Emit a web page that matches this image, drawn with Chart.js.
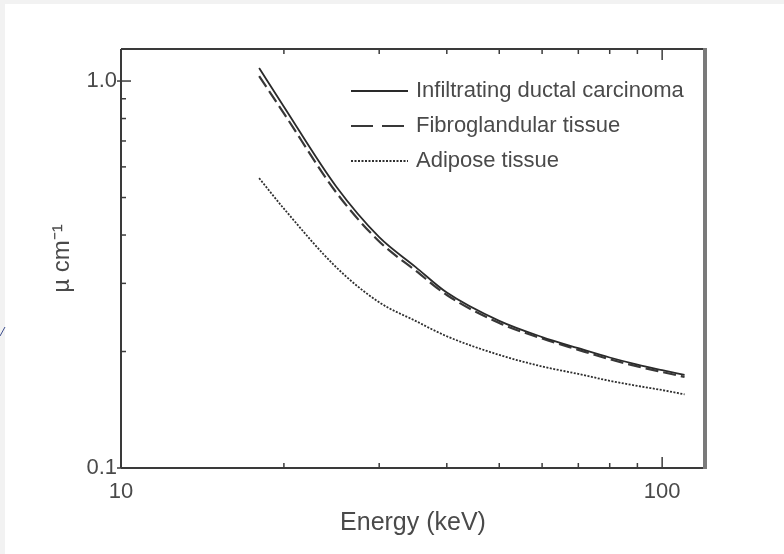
<!DOCTYPE html>
<html>
<head>
<meta charset="utf-8">
<script src="https://cdn.jsdelivr.net/npm/chart.js@4.4.1/dist/chart.umd.min.js"></script>
<style>
  html, body { margin: 0; padding: 0; background: #fff; }
  #muChart { display: block; }
</style>
</head>
<body>
<canvas id="muChart" width="784" height="554"></canvas>
<script>
// Coeficientes de atenuación lineal de tejidos mamarios frente a la energía

// Energías (keV)
const energies = [18, 20, 25, 30, 35, 40, 50, 60, 70, 80, 90, 100, 110];
// µ (cm^-1) por tejido
const ductalCarcinoma = [1.08, 0.858, 0.533, 0.395, 0.331, 0.284, 0.240, 0.218, 0.204, 0.193, 0.185, 0.179, 0.174];
const fibroglandular  = [1.03, 0.825, 0.515, 0.385, 0.324, 0.280, 0.237, 0.216, 0.202, 0.191, 0.183, 0.177, 0.172];
const adipose         = [0.561, 0.468, 0.330, 0.268, 0.240, 0.219, 0.196, 0.183, 0.175, 0.168, 0.163, 0.159, 0.155];
const seriesNames = ['Infiltrating ductal carcinoma', 'Fibroglandular tissue', 'Adipose tissue'];

// Marcas de los ejes
const xTickValues = [10, 100];
const yTickValues = [0.1, 1.0];
const xMinorTicks = [20, 30, 40, 50, 60, 70, 80, 90];
const yMinorTicks = [0.2, 0.3, 0.4, 0.5, 0.6, 0.7, 0.8, 0.9];

const FONT = "'Liberation Sans', Arial, Helvetica, sans-serif";
const TEXT = '#4a4a4a';

const toPoints = vals => energies.map((e, i) => ({ x: e, y: vals[i] }));

// Fondo con franjas grises claras en los bordes
const background = {
  id: 'background',
  beforeDraw(chart) {
    const { ctx, width, height } = chart;
    ctx.save();
    ctx.fillStyle = '#ffffff';
    ctx.fillRect(0, 0, width, height);
    ctx.fillStyle = '#f2f2f2';
    ctx.fillRect(0, 0, width, 4);
    ctx.fillRect(0, 0, 5, height);
    ctx.strokeStyle = '#3d4d8c';
    ctx.lineWidth = 1;
    ctx.beginPath();
    ctx.moveTo(0, 336);
    ctx.lineTo(5, 327);
    ctx.stroke();
    ctx.restore();
  }
};

// Marco del área, marcas hacia dentro y leyenda interior
const frameAndLegend = {
  id: 'frameAndLegend',
  afterDatasetsDraw(chart) {
    const { ctx, chartArea: a, scales: { x, y } } = chart;
    const seg = (x1, y1, x2, y2) => { ctx.beginPath(); ctx.moveTo(x1, y1); ctx.lineTo(x2, y2); ctx.stroke(); };
    ctx.save();
    ctx.strokeStyle = '#3c3c3c';
    ctx.lineWidth = 1.5;
    xMinorTicks.forEach(v => {
      const px = x.getPixelForValue(v);
      seg(px, a.bottom, px, a.bottom - 5);
      seg(px, a.top, px, a.top + 5);
    });
    xTickValues.forEach(v => {
      const px = x.getPixelForValue(v);
      seg(px, a.bottom, px, a.bottom - 11);
      seg(px, a.top, px, a.top + 11);
    });
    yMinorTicks.forEach(v => {
      const py = y.getPixelForValue(v);
      seg(a.left, py, a.left + 5, py);
    });
    yTickValues.forEach(v => {
      const py = y.getPixelForValue(v);
      seg(a.left - 4, py, a.left + 10, py);
    });

    // marco
    ctx.lineWidth = 2;
    ctx.strokeStyle = '#3a3a3a';
    seg(a.left, a.top, a.right, a.top);
    seg(a.left, a.top, a.left, a.bottom);
    seg(a.left, a.bottom, a.right, a.bottom);
    ctx.lineWidth = 4;
    ctx.strokeStyle = '#7a7a7a';
    seg(a.right, a.top - 1, a.right, a.bottom + 1);

    // leyenda
    const lx = a.left + 230, ly = a.top + 42, step = 35;
    const legendDash = [[], [22, 9], [2, 1.5]];
    chart.data.datasets.forEach((ds, i) => {
      const yy = ly + i * step;
      ctx.strokeStyle = ds.borderColor;
      ctx.lineWidth = ds.borderWidth;
      ctx.setLineDash(legendDash[i]);
      seg(lx, yy, lx + 57, yy);
      ctx.setLineDash([]);
      ctx.fillStyle = TEXT;
      ctx.font = `22px ${FONT}`;
      ctx.textBaseline = 'middle';
      ctx.textAlign = 'left';
      ctx.fillText(ds.label, lx + 65, yy);
    });
    ctx.restore();
  }
};

new Chart(document.getElementById('muChart').getContext('2d'), {
  type: 'line',
  data: {
    datasets: [
      { label: seriesNames[0], data: toPoints(ductalCarcinoma), borderColor: '#2a2a2a', borderWidth: 1.8 },
      { label: seriesNames[1], data: toPoints(fibroglandular), borderColor: '#383838', borderWidth: 2.2, borderDash: [13, 5] },
      { label: seriesNames[2], data: toPoints(adipose), borderColor: '#2e2e2e', borderWidth: 1.8, borderDash: [2, 1.5] }
    ]
  },
  options: {
    responsive: false,
    animation: false,
    layout: { padding: { left: 40, top: 49, right: 79, bottom: 10 } },
    elements: {
      point: { radius: 0 },
      line: { cubicInterpolationMode: 'monotone', fill: false }
    },
    plugins: {
      legend: { display: false },
      tooltip: { enabled: false }
    },
    scales: {
      x: {
        type: 'logarithmic',
        min: 10,
        max: 120,
        afterBuildTicks: s => { s.ticks = xTickValues.map(v => ({ value: v })); },
        afterFit: s => { s.height = 76; },
        grid: { display: false, drawTicks: false },
        border: { display: false },
        ticks: {
          callback: v => String(v),
          font: { family: FONT, size: 22 },
          color: TEXT,
          padding: 11,
          maxRotation: 0,
          autoSkip: false
        },
        title: {
          display: true,
          text: 'Energy (keV)',
          font: { family: FONT, size: 25 },
          color: TEXT,
          padding: { top: 0, bottom: 6 }
        }
      },
      y: {
        type: 'logarithmic',
        min: 0.1,
        max: 1.21,
        afterBuildTicks: s => { s.ticks = yTickValues.map(v => ({ value: v })); },
        afterFit: s => { s.width = 81; },
        grid: { display: false, drawTicks: false },
        border: { display: false },
        ticks: {
          callback: v => Number(v).toFixed(1),
          font: { family: FONT, size: 22 },
          color: TEXT,
          padding: 4,
          autoSkip: false
        },
        title: {
          display: true,
          text: 'µ cm⁻¹',
          font: { family: FONT, size: 24 },
          color: TEXT,
          padding: { top: 8, bottom: 0 }
        }
      }
    }
  },
  plugins: [background, frameAndLegend]
});
</script>
</body>
</html>
